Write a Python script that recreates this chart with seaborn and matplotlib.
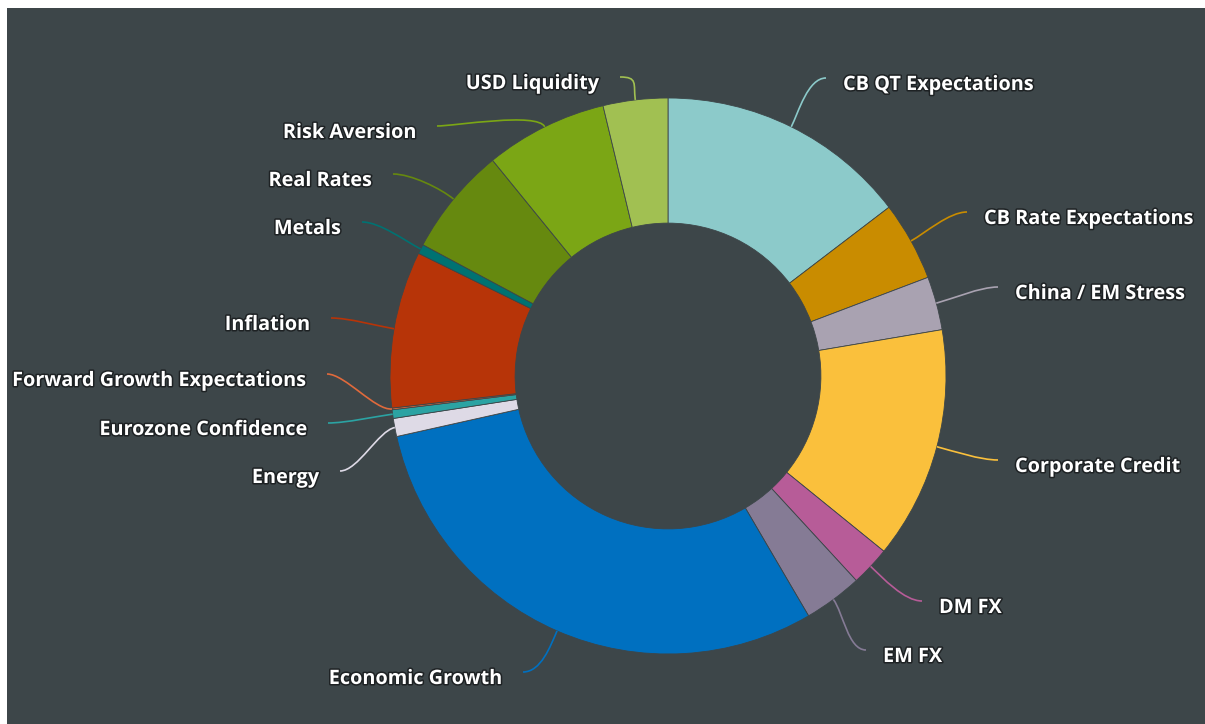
import matplotlib
matplotlib.use("Agg")
import numpy as np
import matplotlib.pyplot as plt
import seaborn as sns
from matplotlib.path import Path
from matplotlib.patches import PathPatch, Rectangle
import matplotlib.patheffects as pe

# data: share of each factor (%), clockwise from 12 o'clock
categories = ['CB QT Expectations', 'CB Rate Expectations', 'China / EM Stress',
              'Corporate Credit', 'DM FX', 'EM FX', 'Economic Growth', 'Energy',
              'Eurozone Confidence', 'Forward Growth Expectations', 'Inflation',
              'Metals', 'Real Rates', 'Risk Aversion', 'USD Liquidity']
values = [14.6, 4.6, 3.1, 13.5, 2.3, 3.4, 29.9, 1.05, 0.5, 0.1, 9.1, 0.55, 6.3, 7.1, 3.75]
slice_colors = ['#8ccaca', '#c98c00', '#a9a2b1', '#fac03c', '#b75c98', '#857b95',
                '#0070c0', '#dedae6', '#2ba3a3', '#e06a3c', '#b73408', '#007272',
                '#66890f', '#7ba615', '#a1c052']

# layout: where each connector ends (pixels in the 1205x724 picture)
label_ends = [(826, 78), (967, 212), (998, 287), (998, 460), (922, 601), (866, 650),
              (523, 672), (340, 471), (328, 423), (327, 374), (331, 318), (362, 222),
              (393, 174), (437, 126), (620, 77)]

BG = '#3d4649'
W, H = 1205, 724
CX, CY, R = 668, 376, 278   # pie centre and outer radius in pixels

sns.set_theme(style="white")
plt.rcParams['font.family'] = ['Open Sans', 'DejaVu Sans']

palette = sns.color_palette(slice_colors)

fig = plt.figure(figsize=(W / 100, H / 100), dpi=100, facecolor='white')
ax = fig.add_axes([0, 0, 1, 1])
ax.set_facecolor('none')
# dark panel with the thin white margin on top and left
ax.add_patch(Rectangle((7 / W, 0), 1, 1 - 8 / H, transform=fig.transFigure,
                       facecolor=BG, edgecolor='none', zorder=-5, clip_on=False))

wedges, _ = ax.pie(values, colors=palette, startangle=90, counterclock=False,
                   radius=1, wedgeprops=dict(width=0.45, edgecolor=BG, linewidth=0.6))

ax.set_xlim(-CX / R, (W - CX) / R)
ax.set_ylim(-(H - CY) / R, CY / R)
ax.set_aspect('equal')
ax.axis('off')


def to_data(px, py):
    return (px - CX) / R, (CY - py) / R


outline = [pe.withStroke(linewidth=2.2, foreground='#1e2224')]

for w, name, col, end in zip(wedges, categories, palette, label_ends):
    mid = np.deg2rad((w.theta1 + w.theta2) / 2)
    p0 = (np.cos(mid), np.sin(mid))
    p1 = (1.06 * np.cos(mid), 1.06 * np.sin(mid))
    ex, ey = to_data(*end)
    right = ex > 0
    crook = 18 / R
    p2 = (ex - crook if right else ex + crook, ey)
    path = Path([p0, p1, p2, (ex, ey)], [Path.MOVETO, Path.CURVE4, Path.CURVE4, Path.CURVE4])
    ax.add_patch(PathPatch(path, facecolor='none', edgecolor=col, lw=1.2, zorder=3))
    tx = ex + (17 / R if right else -21 / R)
    ax.text(tx, ey - 7 / R, name, ha='left' if right else 'right', va='center',
            color='white', fontsize=14.3, fontweight='bold', path_effects=outline, zorder=4)

plt.savefig("out.png", dpi=100, facecolor=fig.get_facecolor())
